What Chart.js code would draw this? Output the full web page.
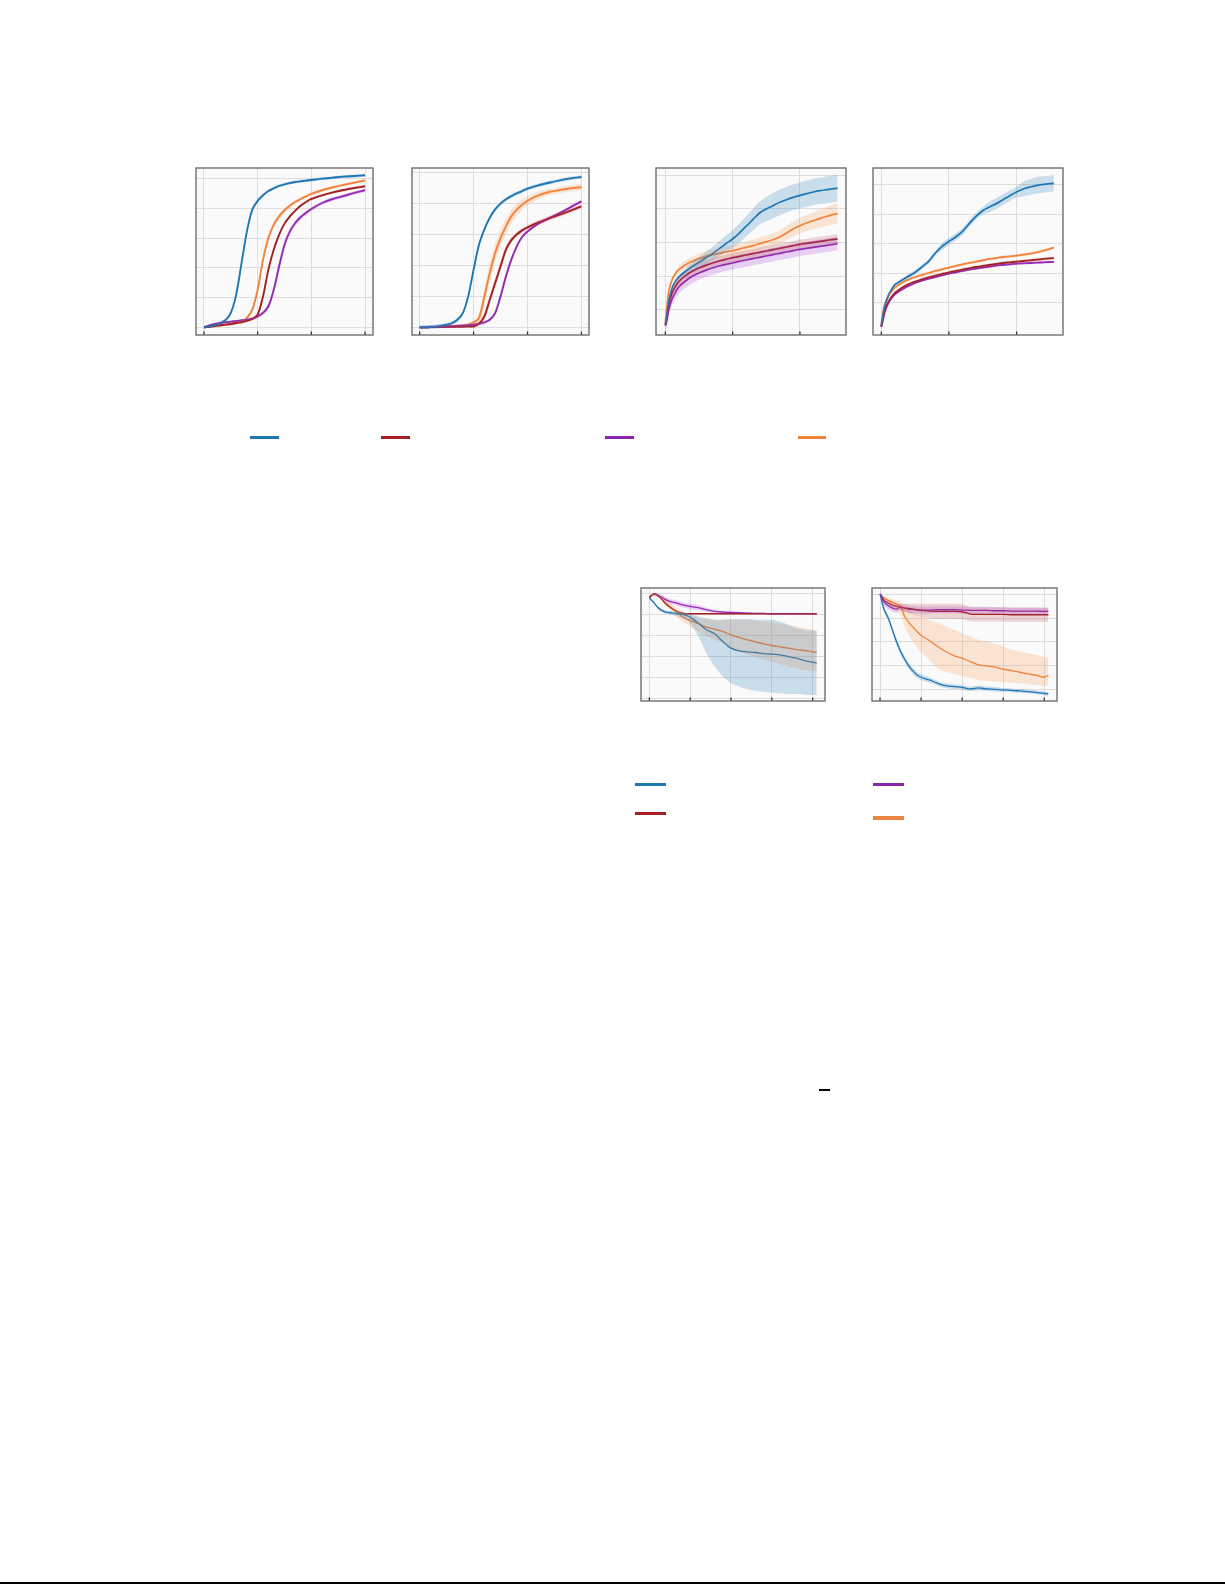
<!DOCTYPE html>
<html>
<head>
<meta charset="utf-8">
<script src="https://cdn.jsdelivr.net/npm/chart.js@4.4.1/dist/chart.umd.min.js"></script>
<style>
  html, body { margin: 0; padding: 0; background: #fff; }
  .page { position: relative; width: 1225px; height: 1585px; overflow: hidden; }
  .plot { position: absolute; }
  .swatch { position: absolute; height: 2.5px; }
  .rule { position: absolute; background: #000; }
</style>
</head>
<body>
<div class="page">
  <div class="plot" id="w1"><canvas id="c1"></canvas></div>
  <div class="plot" id="w2"><canvas id="c2"></canvas></div>
  <div class="plot" id="w3"><canvas id="c3"></canvas></div>
  <div class="plot" id="w4"><canvas id="c4"></canvas></div>
  <div class="plot" id="w5"><canvas id="c5"></canvas></div>
  <div class="plot" id="w6"><canvas id="c6"></canvas></div>

  <!-- legend swatches (labels are blank in the source) -->
  <div class="swatch" style="left:250px;top:436px;width:29px;background:#1f77b4"></div>
  <div class="swatch" style="left:381px;top:436px;width:29px;background:#a31e22"></div>
  <div class="swatch" style="left:605px;top:436px;width:29px;background:#8e24aa"></div>
  <div class="swatch" style="left:798px;top:436px;width:28px;background:#f47f36"></div>

  <div class="swatch" style="left:635px;top:783px;width:31px;background:#1f77b4"></div>
  <div class="swatch" style="left:635px;top:812px;width:31px;background:#a31e22"></div>
  <div class="swatch" style="left:873px;top:783px;width:31px;background:#8e24aa"></div>
  <div class="swatch" style="left:873px;top:816px;width:31px;height:3.5px;background:#ea8540"></div>

  <div class="rule" style="left:819px;top:1089px;width:11px;height:1.5px"></div>
  <div class="rule" style="left:0;top:1582px;width:1225px;height:2px"></div>
</div>

<script>
// x samples
const p12X = [0, 0.1, 0.2, 0.3, 0.4, 0.5, 0.6, 0.7, 0.8, 0.9, 1.0, 1.1, 1.2, 1.3, 1.4, 1.5, 1.6, 1.7, 1.8, 1.9, 2.0, 2.2, 2.4, 2.6, 2.8, 3.0];
const p3X = [0, 0.02, 0.05, 0.1, 0.15, 0.2, 0.3, 0.4, 0.5, 0.6, 0.7, 0.8, 0.9, 1.0, 1.1, 1.2, 1.3, 1.4, 1.5, 1.6, 1.7, 1.8, 1.9, 2.0, 2.1, 2.2, 2.3, 2.4, 2.5, 2.56];
const p4X = [0, 0.02, 0.05, 0.1, 0.15, 0.2, 0.3, 0.4, 0.5, 0.6, 0.7, 0.8, 0.9, 1.0, 1.1, 1.2, 1.3, 1.4, 1.5, 1.6, 1.7, 1.8, 1.9, 2.0, 2.1, 2.2, 2.3, 2.4, 2.5, 2.55];
const p56X = [0, 0.1, 0.2, 0.3, 0.4, 0.5, 0.6, 0.7, 0.8, 0.9, 1.0, 1.2, 1.4, 1.6, 1.8, 2.0, 2.2, 2.4, 2.6, 2.8, 3.0, 3.2, 3.4, 3.6, 3.8, 4.0, 4.1];

// grid positions
const p12XTicks = [0, 1, 2, 3];
const p12YTicks = [0, 0.2, 0.4, 0.6, 0.8, 1.0];
const p34XTicks = [0, 1, 2];
const p34YTicks = [0, 1, 2, 3, 4];
const p56XTicks = [0, 1, 2, 3, 4];
const p5YTicks = [0, 1, 2, 3, 4, 5];
const p6YTicks = [0, 1, 2, 3, 4];

// plot 1
const p1Blue = [0, .007, .013, .029, .047, .097, .220, .434, .647, .793, .852, .890, .919, .937, .953, .964, .973, .980, .984, .989, .993, 1.002, 1.009, 1.016, 1.020, 1.025];
const p1Red = [0, .004, .009, .013, .018, .022, .029, .034, .043, .056, .085, .209, .389, .524, .625, .699, .748, .787, .820, .845, .865, .890, .910, .926, .939, .951];
const p1Purple = [0, .013, .022, .029, .034, .038, .043, .047, .052, .058, .074, .097, .142, .254, .411, .557, .647, .703, .742, .771, .798, .838, .865, .885, .906, .924];
const p1Orange = [0, .004, .009, .013, .018, .022, .029, .038, .063, .119, .254, .456, .602, .692, .748, .789, .820, .845, .865, .883, .899, .924, .944, .960, .975, .991];
const p1OrangeBand = [0, 0, 0, 0, 0, 0, 0, .005, .01, .015, .02, .025, .025, .02, .02, .015, .015, .012, .01, .01, .01, .01, .01, .01, .008, .008];
const p1PurpleBand = [0, .005, .005, .005, .005, .005, .005, .005, .005, .008, .01, .015, .02, .025, .03, .025, .02, .018, .015, .015, .012, .012, .012, .012, .012, .012];

// plot 2
const p2Blue = [0, .002, .004, .006, .011, .017, .028, .049, .092, .200, .372, .533, .632, .707, .761, .798, .826, .847, .864, .879, .895, .916, .933, .948, .961, .970];
const p2Red = [0, 0, .002, .002, .002, .004, .004, .004, .004, .006, .006, .024, .071, .178, .286, .394, .502, .563, .599, .626, .645, .677, .703, .727, .753, .781];
const p2Purple = [0, 0, .002, .002, .004, .006, .006, .009, .011, .013, .017, .024, .032, .049, .092, .200, .329, .437, .523, .583, .619, .669, .705, .738, .776, .813];
const p2Orange = [0, 0, .002, .002, .004, .006, .009, .011, .013, .019, .032, .060, .200, .351, .480, .576, .652, .716, .759, .791, .817, .852, .873, .886, .897, .905];
const p2OrangeBand = [0, 0, 0, 0, 0, 0, 0, 0, 0, .005, .01, .03, .05, .06, .06, .055, .05, .045, .04, .035, .03, .025, .02, .02, .02, .02];
const p2RedBand = [0, 0, 0, 0, 0, 0, 0, 0, 0, 0, .005, .015, .025, .03, .03, .03, .025, .02, .018, .015, .015, .015, .015, .015, .015, .015];

// plot 3
const p3Blue = [-0.446, -0.198, 0.248, 0.644, 0.842, 0.970, 1.139, 1.287, 1.406, 1.535, 1.663, 1.812, 1.960, 2.099, 2.277, 2.475, 2.673, 2.871, 2.990, 3.089, 3.188, 3.267, 3.337, 3.396, 3.446, 3.495, 3.535, 3.564, 3.594, 3.604];
const p3Red = [-0.446, -0.248, 0.149, 0.495, 0.693, 0.842, 1.010, 1.139, 1.238, 1.317, 1.386, 1.446, 1.495, 1.545, 1.584, 1.624, 1.663, 1.703, 1.743, 1.782, 1.822, 1.861, 1.901, 1.941, 1.970, 2.0, 2.030, 2.059, 2.089, 2.099];
const p3Purple = [-0.475, -0.347, 0, 0.317, 0.515, 0.673, 0.851, 0.990, 1.089, 1.168, 1.238, 1.297, 1.347, 1.386, 1.436, 1.475, 1.515, 1.554, 1.594, 1.634, 1.673, 1.713, 1.752, 1.792, 1.822, 1.851, 1.881, 1.911, 1.941, 1.960];
const p3Orange = [-0.396, 0, 0.545, 0.891, 1.069, 1.188, 1.337, 1.436, 1.515, 1.584, 1.634, 1.673, 1.713, 1.752, 1.802, 1.851, 1.901, 1.960, 2.020, 2.079, 2.158, 2.277, 2.396, 2.495, 2.574, 2.644, 2.713, 2.772, 2.832, 2.851];
const p3BlueBand = [.05, .05, .05, .05, .05, .05, .08, .12, .15, .18, .2, .22, .24, .26, .28, .3, .32, .34, .36, .37, .38, .38, .38, .39, .39, .39, .39, .4, .4, .4];
const p3OrangeBand = [.05, .06, .08, .1, .1, .12, .13, .14, .15, .15, .15, .15, .16, .16, .17, .17, .18, .18, .18, .19, .2, .21, .22, .23, .24, .25, .27, .28, .3, .3];

// plot 4
const p4Blue = [-0.768, -0.508, -0.113, 0.226, 0.452, 0.621, 0.768, 0.904, 1.040, 1.220, 1.412, 1.695, 1.921, 2.090, 2.237, 2.429, 2.689, 2.938, 3.130, 3.254, 3.367, 3.503, 3.638, 3.763, 3.864, 3.932, 3.989, 4.023, 4.045, 4.056];
const p4Red = [-0.791, -0.565, -0.249, 0.023, 0.203, 0.339, 0.508, 0.633, 0.723, 0.802, 0.870, 0.927, 0.983, 1.040, 1.085, 1.130, 1.175, 1.220, 1.254, 1.288, 1.322, 1.356, 1.379, 1.401, 1.424, 1.446, 1.469, 1.492, 1.514, 1.525];
const p4Purple = [-0.814, -0.621, -0.316, -0.023, 0.158, 0.294, 0.452, 0.576, 0.678, 0.757, 0.825, 0.881, 0.938, 0.994, 1.040, 1.085, 1.130, 1.164, 1.198, 1.232, 1.266, 1.288, 1.311, 1.333, 1.345, 1.356, 1.367, 1.379, 1.390, 1.390];
const p4Orange = [-0.734, -0.395, -0.056, 0.226, 0.395, 0.520, 0.678, 0.791, 0.881, 0.949, 1.017, 1.085, 1.141, 1.198, 1.254, 1.311, 1.356, 1.401, 1.446, 1.492, 1.525, 1.559, 1.582, 1.605, 1.638, 1.672, 1.718, 1.774, 1.842, 1.876];
const p4BlueBand = [.05, .05, .05, .05, .05, .05, .05, .08, .08, .08, .08, .08, .12, .12, .12, .12, .12, .12, .12, .18, .18, .18, .18, .18, .25, .27, .28, .28, .28, .28];

// plot 5
const p5Blue = [4.762, 4.571, 4.333, 4.175, 4.095, 4.063, 4.048, 4.016, 3.984, 3.937, 3.857, 3.571, 3.254, 3.063, 2.698, 2.381, 2.254, 2.206, 2.175, 2.127, 2.095, 2.063, 1.984, 1.905, 1.794, 1.714, 1.667];
const p5BlueHi = [4.810, 4.619, 4.397, 4.238, 4.175, 4.143, 4.127, 4.111, 4.079, 4.048, 4.000, 3.889, 3.810, 3.730, 3.730, 3.762, 3.762, 3.762, 3.730, 3.730, 3.730, 3.651, 3.492, 3.333, 3.254, 3.222, 3.222];
const p5BlueLo = [4.714, 4.524, 4.270, 4.111, 4.016, 3.968, 3.937, 3.889, 3.810, 3.730, 3.571, 2.937, 2.143, 1.508, 1.032, 0.714, 0.556, 0.429, 0.365, 0.317, 0.270, 0.238, 0.206, 0.206, 0.175, 0.159, 0.159];
const p5Red = [4.810, 4.952, 4.905, 4.714, 4.492, 4.333, 4.206, 4.111, 4.048, 4.016, 4.016, 4.016, 4.016, 4.016, 4.016, 4.016, 4.016, 4.016, 4.016, 4.016, 4.016, 4.016, 4.016, 4.016, 4.016, 4.016, 4.016];
const p5Purple = [4.762, 4.952, 4.905, 4.810, 4.683, 4.603, 4.556, 4.508, 4.444, 4.397, 4.365, 4.302, 4.206, 4.127, 4.095, 4.079, 4.063, 4.048, 4.032, 4.032, 4.016, 4.016, 4.016, 4.016, 4.016, 4.016, 4.016];
const p5PurpleBand = [.03, .05, .08, .1, .12, .12, .12, .12, .12, .12, .12, .12, .1, .08, .06, .05, .05, .04, .04, .04, .04, .04, .04, .04, .04, .04, .04];
const p5Orange = [4.810, 4.921, 4.873, 4.714, 4.524, 4.365, 4.206, 4.048, 3.889, 3.778, 3.698, 3.540, 3.381, 3.286, 3.175, 3.016, 2.889, 2.778, 2.683, 2.587, 2.508, 2.444, 2.381, 2.317, 2.270, 2.206, 2.175];
const p5OrangeHi = [4.841, 4.968, 4.937, 4.810, 4.651, 4.524, 4.397, 4.270, 4.143, 4.048, 3.968, 3.841, 3.762, 3.730, 3.730, 3.730, 3.730, 3.730, 3.698, 3.651, 3.603, 3.540, 3.492, 3.413, 3.333, 3.254, 3.175];
const p5OrangeLo = [4.778, 4.873, 4.810, 4.619, 4.397, 4.206, 4.016, 3.825, 3.651, 3.524, 3.413, 3.175, 2.937, 2.778, 2.619, 2.381, 2.222, 2.063, 1.952, 1.857, 1.746, 1.635, 1.508, 1.429, 1.349, 1.302, 1.270];

// plot 6
const p6Blue = [4.014, 3.352, 3.0, 2.507, 2.014, 1.592, 1.268, 0.986, 0.775, 0.606, 0.507, 0.394, 0.254, 0.155, 0.113, 0.085, 0.014, 0.056, 0.014, 0, -0.028, -0.042, -0.070, -0.099, -0.127, -0.169, -0.197];
const p6BlueBand = [.02, .1, .12, .14, .15, .15, .15, .14, .13, .12, .12, .12, .1, .1, .1, .1, .1, .1, .1, .1, .08, .08, .08, .08, .08, .08, .08];
const p6Red = [4.014, 3.746, 3.634, 3.549, 3.493, 3.451, 3.423, 3.408, 3.380, 3.352, 3.324, 3.296, 3.282, 3.282, 3.282, 3.268, 3.169, 3.155, 3.155, 3.155, 3.155, 3.141, 3.141, 3.141, 3.141, 3.141, 3.141];
const p6RedBand = [.02, .1, .12, .12, .12, .12, .18, .2, .22, .25, .28, .3, .32, .32, .32, .32, .3, .3, .3, .3, .3, .3, .3, .3, .3, .3, .3];
const p6Purple = [4.014, 3.662, 3.521, 3.423, 3.380, 3.465, 3.423, 3.380, 3.366, 3.352, 3.338, 3.338, 3.352, 3.352, 3.352, 3.338, 3.324, 3.324, 3.324, 3.310, 3.310, 3.296, 3.296, 3.296, 3.296, 3.282, 3.296];
const p6Orange = [4.014, 3.845, 3.746, 3.676, 3.592, 3.493, 3.070, 2.817, 2.620, 2.437, 2.268, 2.056, 1.803, 1.592, 1.423, 1.310, 1.169, 1.028, 0.986, 0.930, 0.845, 0.789, 0.718, 0.648, 0.592, 0.507, 0.592];
const p6OrangeHi = [4.014, 3.915, 3.845, 3.803, 3.746, 3.704, 3.493, 3.352, 3.239, 3.141, 3.042, 2.930, 2.789, 2.648, 2.507, 2.366, 2.225, 2.085, 2.014, 1.915, 1.803, 1.662, 1.592, 1.521, 1.451, 1.352, 1.352];
const p6OrangeLo = [4.014, 3.775, 3.634, 3.493, 3.282, 3.141, 2.648, 2.296, 2.014, 1.775, 1.549, 1.239, 0.887, 0.746, 0.648, 0.563, 0.465, 0.394, 0.352, 0.324, 0.296, 0.282, 0.254, 0.225, 0.183, 0.141, 0.183];

const LINE = { blue: "#1f77b4", red: "#a31e22", purple: "#8e24aa", orange: "#f47f36" };
const SHADE = {
  blue: "rgba(31, 119, 180, 0.22)",
  red: "rgba(170, 40, 45, 0.18)",
  purple: "rgba(170, 70, 220, 0.24)",
  orange: "rgba(246, 145, 75, 0.22)",
};

const pts = (xs, ys) => xs.map((x, i) => ({ x, y: ys[i] }));
// half can be a single width or one per sample
const offset = (ys, half, sign) =>
  ys.map((y, i) => y + sign * (Array.isArray(half) ? half[i] : half));

// background, frame and the small inward x ticks
const framePlugin = {
  id: "frame",
  beforeDraw(chart) {
    const { ctx, chartArea: a } = chart;
    ctx.save();
    ctx.fillStyle = "#fafafa";
    ctx.fillRect(a.left, a.top, a.width, a.height);
    ctx.restore();
  },
  afterDraw(chart) {
    const { ctx, chartArea: a } = chart;
    const xs = chart.scales.x;
    ctx.save();
    ctx.strokeStyle = "#333";
    ctx.lineWidth = 1.3;
    xs.ticks.forEach((t) => {
      const px = xs.getPixelForValue(t.value);
      ctx.beginPath();
      ctx.moveTo(px, a.bottom);
      ctx.lineTo(px, a.bottom - 3.5);
      ctx.stroke();
    });
    ctx.strokeStyle = "#6e6e6e";
    ctx.lineWidth = 1.4;
    ctx.strokeRect(a.left, a.top, a.width, a.height);
    ctx.restore();
  },
};

const PAD = 3;

function drawPlot(n, box, xs, series, xr, yr, xTicks, yTicks, lw) {
  const wrap = document.getElementById("w" + n);
  const cv = document.getElementById("c" + n);
  wrap.style.left = box[0] - PAD + "px";
  wrap.style.top = box[1] - PAD + "px";
  cv.width = box[2] + 2 * PAD;
  cv.height = box[3] + 2 * PAD;

  const datasets = [];
  // shaded bands first
  series.forEach((s) => {
    const lo = s.lo || offset(s.mean, s.half, -1);
    const hi = s.hi || offset(s.mean, s.half, 1);
    datasets.push({ data: pts(xs, lo), borderWidth: 0, pointRadius: 0, fill: false, tension: 0.3 });
    datasets.push({
      data: pts(xs, hi),
      borderWidth: 0,
      pointRadius: 0,
      fill: "-1",
      backgroundColor: SHADE[s.c],
      tension: 0.3,
    });
  });
  series.forEach((s) => {
    datasets.push({
      data: pts(xs, s.mean),
      borderColor: LINE[s.c],
      borderWidth: lw,
      pointRadius: 0,
      fill: false,
      tension: 0.3,
    });
  });

  const grid = { color: "#d9d9d9", lineWidth: 0.9, drawTicks: false };
  new Chart(cv, {
    type: "line",
    data: { datasets },
    plugins: [framePlugin],
    options: {
      responsive: false,
      animation: false,
      layout: { padding: PAD },
      plugins: { legend: { display: false }, tooltip: { enabled: false } },
      scales: {
        x: {
          type: "linear",
          min: xr[0],
          max: xr[1],
          grid,
          border: { display: false },
          ticks: { display: false },
          afterBuildTicks: (sc) => { sc.ticks = xTicks.map((v) => ({ value: v })); },
        },
        y: {
          type: "linear",
          min: yr[0],
          max: yr[1],
          grid,
          border: { display: false },
          ticks: { display: false },
          afterBuildTicks: (sc) => { sc.ticks = yTicks.map((v) => ({ value: v })); },
        },
      },
    },
  });
}

// box = [left, top, width, height] of the plot frame
drawPlot(1, [196, 168, 177, 167], p12X, [
  { c: "blue", mean: p1Blue, half: 0.01 },
  { c: "red", mean: p1Red, half: 0.008 },
  { c: "purple", mean: p1Purple, half: p1PurpleBand },
  { c: "orange", mean: p1Orange, half: p1OrangeBand },
], [-0.149, 3.149], [-0.052, 1.074], p12XTicks, p12YTicks, 1.9);

drawPlot(2, [412, 168, 177, 167], p12X, [
  { c: "blue", mean: p2Blue, half: 0.012 },
  { c: "red", mean: p2Red, half: p2RedBand },
  { c: "purple", mean: p2Purple, half: 0.01 },
  { c: "orange", mean: p2Orange, half: p2OrangeBand },
], [-0.142, 3.14], [-0.049, 1.028], p12XTicks, p12YTicks, 1.9);

drawPlot(3, [656, 168, 190, 167], p3X, [
  { c: "blue", mean: p3Blue, half: p3BlueBand },
  { c: "red", mean: p3Red, half: 0.14 },
  { c: "purple", mean: p3Purple, half: 0.2 },
  { c: "orange", mean: p3Orange, half: p3OrangeBand },
], [-0.139, 2.685], [-0.752, 4.208], p34XTicks, p34YTicks, 1.7);

drawPlot(4, [873, 168, 190, 167], p4X, [
  { c: "blue", mean: p4Blue, half: p4BlueBand },
  { c: "red", mean: p4Red, half: 0.05 },
  { c: "purple", mean: p4Purple, half: 0.04 },
  { c: "orange", mean: p4Orange, half: 0.05 },
], [-0.123, 2.686], [-1.085, 4.576], p34XTicks, p34YTicks, 1.8);

drawPlot(5, [641, 588, 184, 113], p56X, [
  { c: "blue", mean: p5Blue, lo: p5BlueLo, hi: p5BlueHi },
  { c: "red", mean: p5Red, half: 0.03 },
  { c: "purple", mean: p5Purple, half: p5PurpleBand },
  { c: "orange", mean: p5Orange, lo: p5OrangeLo, hi: p5OrangeHi },
], [-0.204, 4.302], [-0.127, 5.238], p56XTicks, p5YTicks, 1.3);

drawPlot(6, [872, 588, 185, 113], p56X, [
  { c: "blue", mean: p6Blue, half: p6BlueBand },
  { c: "red", mean: p6Red, half: p6RedBand },
  { c: "purple", mean: p6Purple, half: 0.15 },
  { c: "orange", mean: p6Orange, lo: p6OrangeLo, hi: p6OrangeHi },
], [-0.196, 4.31], [-0.493, 4.268], p56XTicks, p6YTicks, 1.3);
</script>
</body>
</html>
